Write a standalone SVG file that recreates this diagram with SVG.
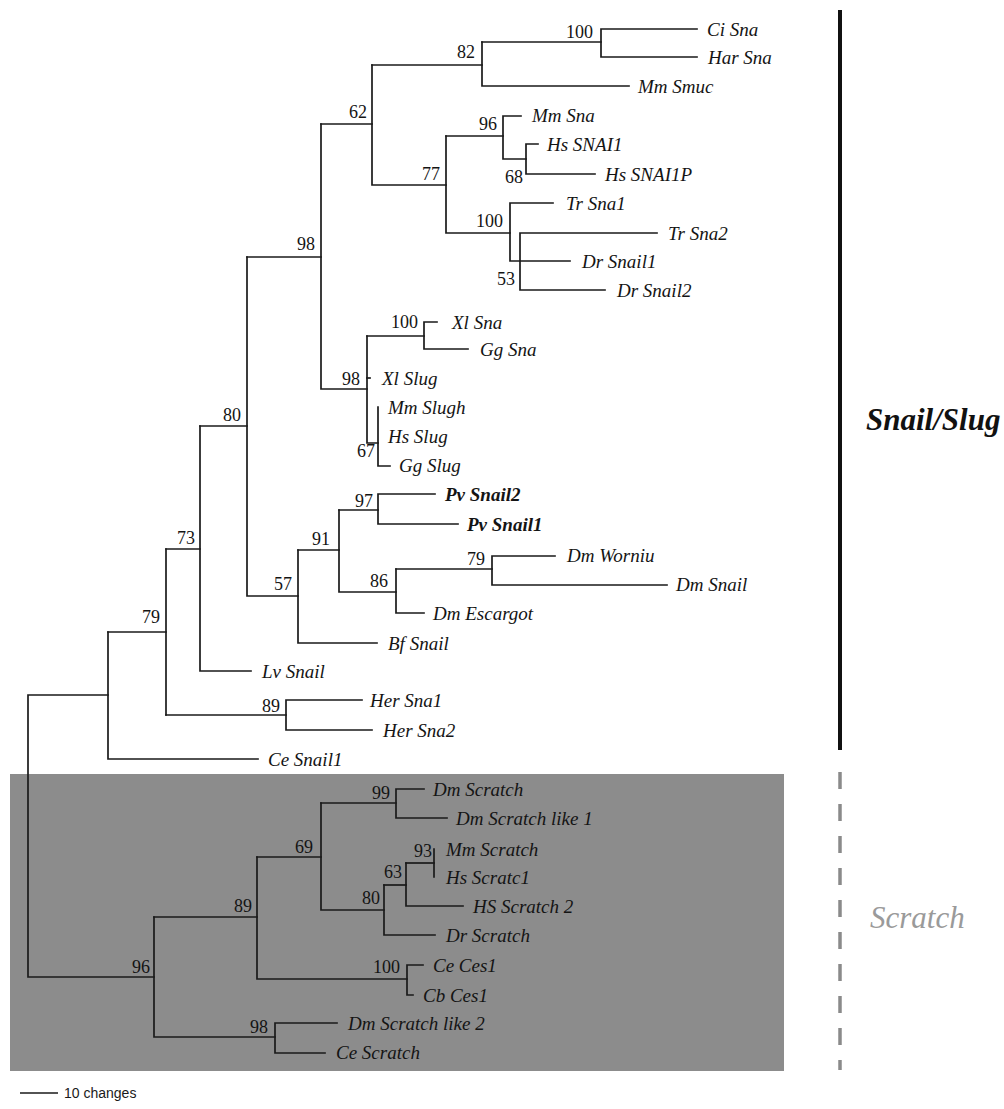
<svg xmlns="http://www.w3.org/2000/svg" width="1004" height="1109" viewBox="0 0 1004 1109">
  <style>
    .br { fill: none; stroke: #1a1a1a; stroke-width: 1.7; stroke-linecap: square; }
    .leaf { font-family: "Liberation Serif", "Times New Roman", serif; font-style: italic; font-size: 19px; fill: #141414; }
    .leaf.b { font-weight: bold; }
    .bs { font-family: "Liberation Serif", "Times New Roman", serif; font-size: 18px; fill: #141414; text-anchor: end; }
    .grp { font-family: "Liberation Serif", "Times New Roman", serif; font-style: italic; font-size: 31px; }
  </style>
  <rect width="1004" height="1109" fill="#ffffff"/>

  <!-- shaded Scratch clade -->
  <rect id="scratch-band" x="10" y="774" width="774" height="297" fill="#8c8c8c"/>

  <!-- branches -->
  <g id="connectors" class="br">
    <!-- root -->
    <path d="M108 695H28V977H154"/>
    <!-- Snail/Slug side -->
    <path d="M108 632V759H258"/>
    <path d="M166 632H108"/>
    <path d="M166 549V715"/>
    <path d="M200 549H166"/>
    <path d="M286 715H166"/>
    <path d="M362 700H286V730H372"/>
    <path d="M200 426V671H251"/>
    <path d="M247 426H200"/>
    <path d="M247 257V596H298"/>
    <path d="M321 257H247"/>
    <path d="M298 550V643H377"/>
    <path d="M339 550H298"/>
    <path d="M339 510V592H396"/>
    <path d="M378 510H339"/>
    <path d="M435 494H378V524H458"/>
    <path d="M396 569V613H424"/>
    <path d="M492 569H396"/>
    <path d="M555 556H492V585H667"/>
    <path d="M321 124V389H367"/>
    <path d="M367 336V443H378"/>
    <path d="M424 336H367"/>
    <path d="M437 322H424V349H468"/>
    <path d="M367 378H370"/>
    <path d="M378 407V466H390"/>
    <path d="M372 124H321"/>
    <path d="M372 65V185H446"/>
    <path d="M482 65H372"/>
    <path d="M482 42V86H629"/>
    <path d="M601 42H482"/>
    <path d="M697 29H601V57H697"/>
    <path d="M446 136V233H510"/>
    <path d="M503 136H446"/>
    <path d="M521 116H503V159H526"/>
    <path d="M538 144H526V174H595"/>
    <path d="M553 203H510V261H570"/>
    <path d="M657 233H520V290H605"/>
    <!-- Scratch side -->
    <path d="M154 917V1037H275"/>
    <path d="M257 917H154"/>
    <path d="M257 857V979H407"/>
    <path d="M337 1023H275V1053H325"/>
    <path d="M423 965H407V995H413"/>
    <path d="M321 857H257"/>
    <path d="M321 803V910H384"/>
    <path d="M396 803H321"/>
    <path d="M424 789H396V818H447"/>
    <path d="M384 885V935H435"/>
    <path d="M406 885H384"/>
    <path d="M406 863V906H463"/>
    <path d="M434 863H406"/>
    <path d="M434 849V877"/>
  </g>

  <!-- support values -->
  <g id="support" class="bs">
    <text x="593" y="38">100</text>
    <text x="475" y="58">82</text>
    <text x="367" y="118">62</text>
    <text x="497" y="130">96</text>
    <text x="523" y="183">68</text>
    <text x="440" y="180">77</text>
    <text x="503" y="227">100</text>
    <text x="515" y="285">53</text>
    <text x="315" y="250">98</text>
    <text x="418" y="328">100</text>
    <text x="360" y="385">98</text>
    <text x="375" y="457">67</text>
    <text x="373" y="507">97</text>
    <text x="330" y="545">91</text>
    <text x="485" y="565">79</text>
    <text x="388" y="587">86</text>
    <text x="292" y="590">57</text>
    <text x="241" y="421">80</text>
    <text x="195" y="544">73</text>
    <text x="160" y="623">79</text>
    <text x="280" y="712">89</text>
    <text x="390" y="799">99</text>
    <text x="313" y="853">69</text>
    <text x="432" y="857">93</text>
    <text x="402" y="878">63</text>
    <text x="380" y="904">80</text>
    <text x="252" y="912">89</text>
    <text x="400" y="973">100</text>
    <text x="150" y="973">96</text>
    <text x="268" y="1033">98</text>
  </g>

  <!-- taxa -->
  <g id="ci-sna"><text class="leaf" x="707" y="36">Ci Sna</text></g>
  <g id="har-sna"><text class="leaf" x="708" y="64">Har Sna</text></g>
  <g id="mm-smuc"><text class="leaf" x="638" y="93">Mm Smuc</text></g>
  <g id="mm-sna"><text class="leaf" x="532" y="122">Mm Sna</text></g>
  <g id="hs-snai1"><text class="leaf" x="547" y="151">Hs SNAI1</text></g>
  <g id="hs-snai1p"><text class="leaf" x="605" y="181">Hs SNAI1P</text></g>
  <g id="tr-sna1"><text class="leaf" x="566" y="210">Tr Sna1</text></g>
  <g id="tr-sna2"><text class="leaf" x="668" y="240">Tr Sna2</text></g>
  <g id="dr-snail1"><text class="leaf" x="582" y="268">Dr Snail1</text></g>
  <g id="dr-snail2"><text class="leaf" x="617" y="297">Dr Snail2</text></g>
  <g id="xl-sna"><text class="leaf" x="452" y="329">Xl Sna</text></g>
  <g id="gg-sna"><text class="leaf" x="480" y="356">Gg Sna</text></g>
  <g id="xl-slug"><text class="leaf" x="382" y="385">Xl Slug</text></g>
  <g id="mm-slugh"><text class="leaf" x="388" y="414">Mm Slugh</text></g>
  <g id="hs-slug"><text class="leaf" x="388" y="443">Hs Slug</text></g>
  <g id="gg-slug"><text class="leaf" x="399" y="472">Gg Slug</text></g>
  <g id="pv-snail2"><text class="leaf b" x="445" y="501">Pv Snail2</text></g>
  <g id="pv-snail1"><text class="leaf b" x="467" y="531">Pv Snail1</text></g>
  <g id="dm-worniu"><text class="leaf" x="567" y="562">Dm Worniu</text></g>
  <g id="dm-snail"><text class="leaf" x="676" y="591">Dm Snail</text></g>
  <g id="dm-escargot"><text class="leaf" x="433" y="620">Dm Escargot</text></g>
  <g id="bf-snail"><text class="leaf" x="388" y="650">Bf Snail</text></g>
  <g id="lv-snail"><text class="leaf" x="262" y="678">Lv Snail</text></g>
  <g id="her-sna1"><text class="leaf" x="370" y="707">Her Sna1</text></g>
  <g id="her-sna2"><text class="leaf" x="383" y="737">Her Sna2</text></g>
  <g id="ce-snail1"><text class="leaf" x="268" y="766">Ce Snail1</text></g>
  <g id="dm-scratch"><text class="leaf" x="433" y="796">Dm Scratch</text></g>
  <g id="dm-scratch-like-1"><text class="leaf" x="456" y="825">Dm Scratch like 1</text></g>
  <g id="mm-scratch"><text class="leaf" x="446" y="856">Mm Scratch</text></g>
  <g id="hs-scratc1"><text class="leaf" x="446" y="884">Hs Scratc1</text></g>
  <g id="hs-scratch-2"><text class="leaf" x="473" y="913">HS Scratch 2</text></g>
  <g id="dr-scratch"><text class="leaf" x="446" y="942">Dr Scratch</text></g>
  <g id="ce-ces1"><text class="leaf" x="433" y="972">Ce Ces1</text></g>
  <g id="cb-ces1"><text class="leaf" x="423" y="1002">Cb Ces1</text></g>
  <g id="dm-scratch-like-2"><text class="leaf" x="348" y="1030">Dm Scratch like 2</text></g>
  <g id="ce-scratch"><text class="leaf" x="336" y="1059">Ce Scratch</text></g>

  <!-- group brackets -->
  <g id="snail-slug-group">
    <line x1="840" y1="10" x2="840" y2="750" stroke="#111" stroke-width="4"/>
    <text class="grp" x="866" y="430" font-weight="bold" fill="#111">Snail/Slug</text>
  </g>
  <g id="scratch-group">
    <line x1="840" y1="772" x2="840" y2="1070" stroke="#8a8a8a" stroke-width="3.5" stroke-dasharray="17 15"/>
    <text class="grp" x="870" y="928" fill="#9a9a9a">Scratch</text>
  </g>

  <!-- scale bar -->
  <g id="scale-bar">
    <line x1="20" y1="1093" x2="58" y2="1093" stroke="#1a1a1a" stroke-width="1.5"/>
    <text x="64" y="1098" font-family="'Liberation Sans', Arial, sans-serif" font-size="14" fill="#1a1a1a">10 changes</text>
  </g>
</svg>
